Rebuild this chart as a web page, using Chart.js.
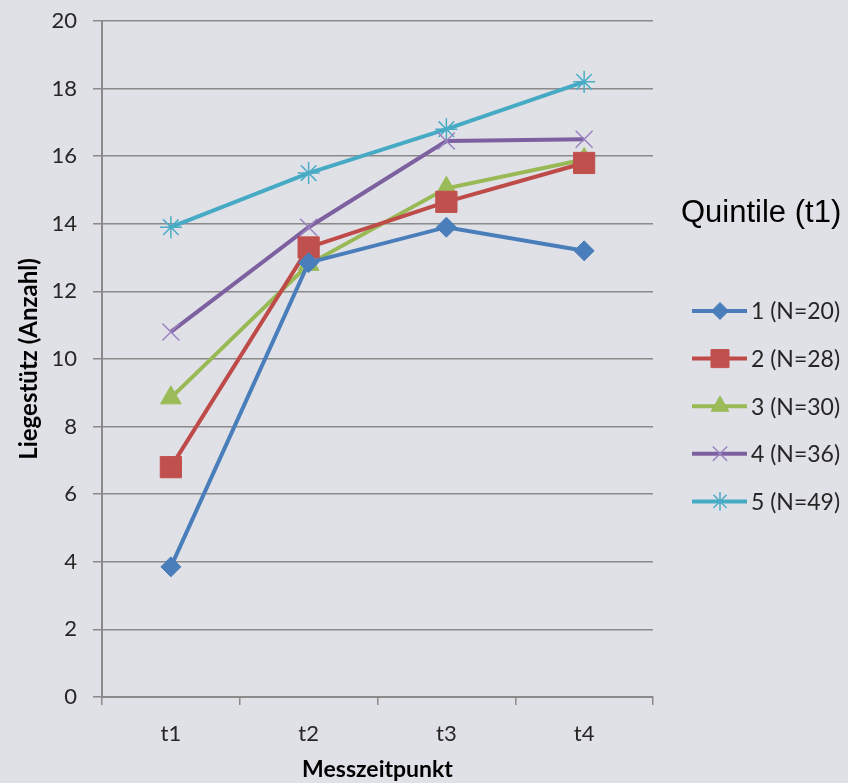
<!DOCTYPE html>
<html>
<head>
<meta charset="utf-8">
<script src="https://cdn.jsdelivr.net/npm/chart.js@4/dist/chart.umd.min.js"></script>
<style>
  html, body { margin: 0; padding: 0; background: #e0e1e7; }
  #wrap { width: 848px; height: 783px; position: relative; }
</style>
</head>
<body>
<div id="wrap"><canvas id="chart"></canvas></div>
<script>
// Liegestütz by Messzeitpunkt, per Quintile (t1)

const timePoints = ['t1', 't2', 't3', 't4'];
const yTicks = [0, 2, 4, 6, 8, 10, 12, 14, 16, 18, 20];

const seriesLabels = ['1 (N=20)', '2 (N=28)', '3 (N=30)', '4 (N=36)', '5 (N=49)'];
const q1 = [3.85, 12.85, 13.9, 13.2];
const q2 = [6.8, 13.3, 14.65, 15.8];
const q3 = [8.85, 12.8, 15.05, 15.9];
const q4 = [10.8, 13.9, 16.45, 16.5];
const q5 = [13.9, 15.5, 16.8, 18.2];

const lineColors = ['#4a7ebb', '#be4b48', '#98b954', '#7d60a0', '#46aac5'];
const markerColors = ['#4a7ebb', '#c0504d', '#9bbb59', '#9b82c0', '#4bacc6'];
const markerStyles = ['rectRot', 'rect', 'triangle', 'crossRot', 'star'];
const markerSizes = [10, 15, 12, 12, 11];

const seriesValues = [q1, q2, q3, q4, q5];

const datasets = seriesValues.map((vals, i) => ({
    label: seriesLabels[i],
    data: vals,
    borderColor: lineColors[i],
    borderWidth: 4,
    pointStyle: markerStyles[i],
    pointRadius: markerSizes[i],
    pointHoverRadius: markerSizes[i],
    pointBackgroundColor: markerColors[i],
    pointBorderColor: markerColors[i],
    pointBorderWidth: i >= 3 ? 1.5 : 1,
    tension: 0
}));

// legend drawn like the spreadsheet one: short line with marker in the middle
const sideLegend = {
    id: 'sideLegend',
    afterDraw(chart) {
        const ctx = chart.ctx;
        const left = 692;
        ctx.save();
        ctx.fillStyle = '#000';
        ctx.font = '31px "Liberation Sans", Arial, sans-serif';
        ctx.textBaseline = 'middle';
        ctx.textAlign = 'left';
        ctx.fillText('Quintile (t1)', 681, 213);

        ctx.font = '23px Lato, sans-serif';
        chart.data.datasets.forEach((ds, i) => {
            const y = 311 + i * 47.6;
            ctx.strokeStyle = ds.borderColor;
            ctx.lineWidth = 4;
            ctx.beginPath();
            ctx.moveTo(left, y);
            ctx.lineTo(left + 55, y);
            ctx.stroke();
            ctx.fillStyle = ds.pointBackgroundColor;
            ctx.strokeStyle = ds.pointBorderColor;
            ctx.lineWidth = ds.pointBorderWidth;
            Chart.helpers.drawPoint(ctx, {
                pointStyle: ds.pointStyle,
                radius: ds.pointRadius * 0.85,
                rotation: 0,
                borderWidth: ds.pointBorderWidth
            }, left + 28, y);
            ctx.fillStyle = '#262626';
            ctx.fillText(ds.label, 751, y + 1);
        });
        ctx.restore();
    }
};

new Chart(document.getElementById('chart'), {
    type: 'line',
    data: { labels: timePoints, datasets: datasets },
    options: {
        responsive: true,
        maintainAspectRatio: false,
        animation: false,
        layout: { padding: { left: 13, right: 195, top: 21, bottom: 0 } },
        plugins: {
            legend: { display: false },
            tooltip: { enabled: false }
        },
        scales: {
            x: {
                offset: true,
                afterFit: axis => { axis.height = 86; },
                grid: {
                    offset: true,
                    drawOnChartArea: false,
                    drawTicks: true,
                    tickLength: 8,
                    color: '#8a8a8a',
                    lineWidth: 1.5
                },
                border: { color: '#8a8a8a', width: 2 },
                ticks: { color: '#262626', font: { family: 'Lato', size: 22 }, padding: 16 },
                title: {
                    display: true,
                    text: 'Messzeitpunkt',
                    color: '#000',
                    font: { family: 'Lato', size: 23, weight: 'bold' },
                    padding: { top: 8, bottom: 0 }
                }
            },
            y: {
                min: 0,
                max: 20,
                afterFit: axis => { axis.width = 89; axis.paddingTop = 0; },
                afterBuildTicks: axis => { axis.ticks = yTicks.map(v => ({ value: v })); },
                grid: {
                    color: '#8a8a8a',
                    lineWidth: 1.5,
                    tickLength: 9
                },
                border: { color: '#8a8a8a', width: 2 },
                ticks: { color: '#262626', font: { family: 'Lato', size: 22 }, padding: 16 },
                title: {
                    display: true,
                    text: 'Liegestütz (Anzahl)',
                    color: '#000',
                    font: { family: 'Lato', size: 24, weight: 'bold' },
                    padding: { top: 2, bottom: 6 }
                }
            }
        }
    },
    plugins: [sideLegend]
});
</script>
</body>
</html>
